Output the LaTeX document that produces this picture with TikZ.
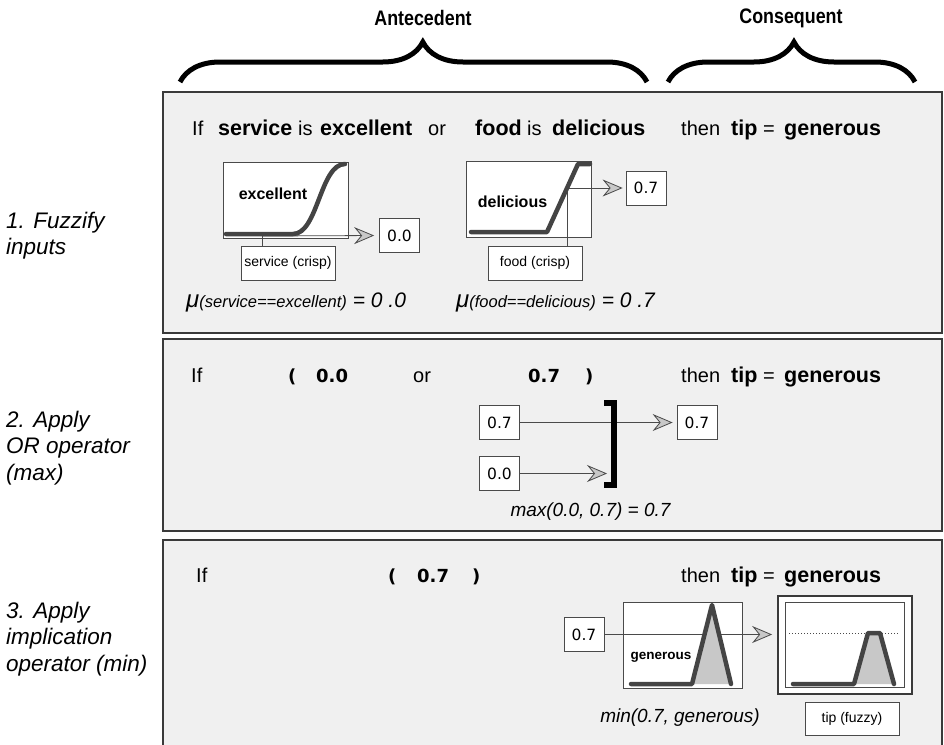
\documentclass[tikz,border=0pt]{standalone}
\usepackage{fontspec}
\setmainfont{Liberation Sans}
\newfontfamily\numfont{DejaVu Sans}
\newfontfamily\headfont[FakeStretch=0.85]{Liberation Sans}
\usetikzlibrary{arrows.meta,decorations.pathreplacing}

\definecolor{panelgray}{HTML}{F0F0F0}
\definecolor{edgegray}{HTML}{3A3A3A}
\definecolor{linegray}{HTML}{4A4A4A}
\definecolor{curvegray}{HTML}{444444}
\definecolor{areagray}{HTML}{C8C8C8}

\tikzset{
  panel/.style={draw=edgegray, line width=1.6pt, fill=panelgray},
  plotbox/.style={draw=linegray, line width=0.8pt, fill=white, inner sep=0pt},
  valbox/.style={draw=linegray, line width=0.8pt, fill=white, inner sep=0pt,
    minimum width=40pt, minimum height=34pt, font=\numfont\fontsize{15.5}{18}\selectfont},
  crispbox/.style={draw=linegray, line width=0.8pt, fill=white, inner sep=0pt,
    minimum width=94pt, minimum height=34pt, font=\fontsize{14}{17}\selectfont},
  mflabel/.style={inner sep=0pt, font=\bfseries\fontsize{16}{19}\selectfont},
  mf/.style={draw=curvegray, line width=4.5pt, line cap=round, line join=round},
  arr/.style={draw=linegray, line width=0.8pt,
    -{Stealth[length=20pt, width=17pt, inset=7pt, fill=areagray]}},
  wrd/.style={anchor=base west, inner sep=0pt, font=\fontsize{20}{24}\selectfont},
  bwrd/.style={anchor=base west, inner sep=0pt, font=\bfseries\fontsize{21.5}{26}\selectfont},
  bnum/.style={anchor=base west, inner sep=0pt, font=\numfont\bfseries\fontsize{18}{22}\selectfont},
  steplbl/.style={anchor=north west, inner sep=0pt, align=left,
    font=\itshape\fontsize{22.5}{26.5}\selectfont},
  calc/.style={inner sep=0pt, font=\itshape\fontsize{19}{23}\selectfont},
  hdr/.style={inner sep=0pt, font=\headfont\bfseries\fontsize{21}{25}\selectfont},
}

\begin{document}
\begin{tikzpicture}[x=1pt, y=-1pt]
  \useasboundingbox (0,0) rectangle (944,744);

  % the three steps
  \draw[panel] (163,92) rectangle (942,333);
  \draw[panel] (163,339) rectangle (942,531);
  \draw[panel] (163,540) rectangle (942,750);

  % headings over the rule
  \draw[decorate, decoration={brace, amplitude=40pt, aspect=0.52}, line width=5pt]
    (180,82) -- (647,82);
  \draw[decorate, decoration={brace, amplitude=40pt, aspect=0.51}, line width=5pt]
    (668,82) -- (915,82);
  \node[hdr] (ante) at (423,18) {Antecedent};
  \node[hdr] (cons) at (791,18) {Consequent};

  \node[steplbl] (step1) at (6,211.5) {1. Fuzzify\\inputs};
  \node[steplbl] (step2) at (6,410.5) {2. Apply\\OR operator\\(max)};
  \node[steplbl] (step3) at (6,601.5) {3. Apply\\implication\\operator (min)};

  % rule text, same consequent in every step
  \foreach \y/\x in {135/192, 382/191, 582/196}
    \node[wrd] (if\y) at (\x,\y) {If};
  \foreach \y in {135,382,582}{
    \node[wrd] (then\y) at (681,\y) {then};
    \node[bwrd] (tip\y) at (731,\y) {tip};
    \node[wrd] (eq\y) at (763,\y) {=};
    \node[bwrd] (gen\y) at (784,\y) {generous};
  }
  \node[bwrd] (svcw) at (218,135) {service};
  \node[wrd] (is1) at (298,135) {is};
  \node[bwrd] (excw) at (320,135) {excellent};
  \node[wrd] (or1) at (428,135) {or};
  \node[bwrd] (foodw) at (475,135) {food};
  \node[wrd] (is2) at (527,135) {is};
  \node[bwrd] (delw) at (552,135) {delicious};

  \node[bnum] (lp2) at (288,382) {(};
  \node[bnum] (a00) at (316,382) {0.0};
  \node[wrd] (or2) at (413,382) {or};
  \node[bnum] (a07) at (528,382) {0.7};
  \node[bnum] (rp2) at (585,382) {)};

  \node[bnum] (lp3) at (388,582) {(};
  \node[bnum] (b07) at (417,582) {0.7};
  \node[bnum] (rp3) at (472,582) {)};

  % step 1: service
  \node[plotbox, minimum width=125pt, minimum height=76pt] (pExc) at (285.5,200) {};
  \node[mflabel] (lExc) at (273,194) {excellent};
  \node[crispbox] (crS) at (288,263) {service (crisp)};
  \node[valbox] (outS) at (399.5,235.5) {0.0};
  \coordinate (svc) at (262,236);
  \draw[linegray, line width=0.8pt] (crS.north -| svc) -- (svc);
  \draw[arr, shorten >=5pt] (svc) -- (outS.west);
  \draw[mf] (226,234) -- (293,234) .. controls (318,234) and (320,164) .. (345,164);
  \node[anchor=base west, inner sep=0pt] (muS) at (186,307)
    {{\itshape\fontsize{24}{28}\selectfont μ}{\itshape\fontsize{16.5}{20}\selectfont(service==excellent)}{\itshape\fontsize{21}{25}\selectfont\ = 0 .0}};

  % step 1: food
  \node[plotbox, minimum width=125pt, minimum height=76pt] (pDel) at (528.5,199) {};
  \node[mflabel] (lDel) at (512.5,202) {delicious};
  \node[crispbox] (crF) at (535,263) {food (crisp)};
  \node[valbox] (outF) at (646,188) {0.7};
  \coordinate (fd) at (567,188);
  \draw[linegray, line width=0.8pt] (crF.north -| fd) -- (fd);
  \draw[arr, shorten >=3pt] (fd) -- (outF.west);
  \draw[mf] (471,232) -- (547,232) -- (578,164) -- (590,164);
  \node[anchor=base west, inner sep=0pt] (muF) at (456,307)
    {{\itshape\fontsize{24}{28}\selectfont μ}{\itshape\fontsize{16.5}{20}\selectfont(food==delicious)}{\itshape\fontsize{21}{25}\selectfont\ = 0 .7}};

  % step 2: max of the two degrees
  \node[valbox] (in7) at (499.5,422.5) {0.7};
  \node[valbox] (in0) at (499.5,473.5) {0.0};
  \node[valbox] (max7) at (697,422.5) {0.7};
  \coordinate (brk) at (610.5,473.5);
  \draw[arr, shorten >=4pt] (in7) -- (max7);
  \draw[arr, shorten >=3.5pt] (in0) -- (brk);
  \draw[line width=6pt] (604,402.5) -| (613.5,484.5) -- (604,484.5);
  \node[calc] (maxlbl) at (590.5,512) {max(0.0, 0.7) = 0.7};

  % step 3: clip the consequent set
  \node[valbox] (imp7) at (584,634.5) {0.7};
  \node[plotbox, minimum width=119pt, minimum height=86pt] (pGen) at (682.5,645) {};
  \node[mflabel, font=\bfseries\fontsize{13.5}{16}\selectfont] (lGen) at (661,657) {generous};
  \node[draw=edgegray, line width=1.8pt, fill=white, inner sep=0pt,
    minimum width=134pt, minimum height=98pt] (pTip) at (845,645) {};
  \node[plotbox, minimum width=119pt, minimum height=85pt] (pTipIn) at (844.5,644.5) {};
  \draw[arr, shorten >=5pt] (imp7.east) -- (imp7.east -| pTip.west);
  \fill[areagray] (692,684) -- (712,605) -- (731,684) -- cycle;
  \draw[mf] (631,684) -- (692,684) -- (712,605) -- (731,684);
  \draw[linegray, line width=0.8pt, dash pattern=on 1pt off 2pt] (789,633) -- (899,633);
  \fill[areagray] (854,684) -- (868,633) -- (880,633) -- (894,684) -- cycle;
  \draw[mf] (793,684) -- (854,684) -- (868,633) -- (880,633) -- (894,684);
  \node[crispbox, minimum height=33pt] (tipF) at (852,718.5) {tip (fuzzy)};
  \node[calc] (minlbl) at (680,718) {min(0.7, generous)};
\end{tikzpicture}
\end{document}
